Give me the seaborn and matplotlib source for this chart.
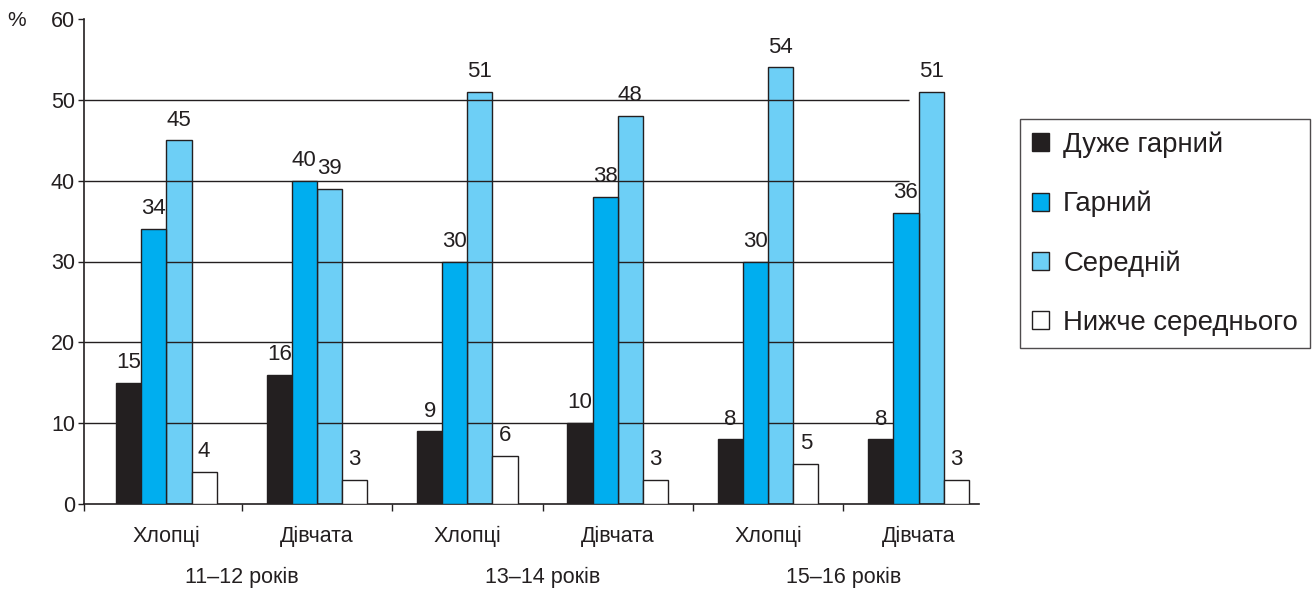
import matplotlib
matplotlib.use("Agg")
import matplotlib.pyplot as plt
from matplotlib.patches import Patch
import seaborn as sns
import pandas as pd

# Categories (two per age group) and the four rating levels
groups = ["Хлопці", "Дівчата", "Хлопці", "Дівчата", "Хлопці", "Дівчата"]
age_groups = ["11–12 років", "13–14 років", "15–16 років"]
levels = ["Дуже гарний", "Гарний", "Середній", "Нижче середнього"]

very_good = [15, 16, 9, 10, 8, 8]
good = [34, 40, 30, 38, 30, 36]
average = [45, 39, 51, 48, 54, 51]
below_average = [4, 3, 6, 3, 5, 3]

y_ticks = [0, 10, 20, 30, 40, 50, 60]

colors = ["#231f20", "#00aeef", "#6dcff6", "#ffffff"]
ink = "#231f20"

sns.set_theme(style="white")
plt.rcParams["font.family"] = ["Liberation Sans", "DejaVu Sans"]

series = [very_good, good, average, below_average]
rows = []
for lvl, vals in zip(levels, series):
    for i, v in enumerate(vals):
        rows.append({"cat": i, "level": lvl, "value": v})
df = pd.DataFrame(rows)

fig = plt.figure(figsize=(13.14, 5.89), dpi=100)
ax = fig.add_axes([84 / 1314, 1 - 504 / 589, 895 / 1314, 485 / 589])

sns.barplot(data=df, x="cat", y="value", hue="level", hue_order=levels,
            palette=colors, width=0.668, gap=0, saturation=1,
            edgecolor=ink, linewidth=1.0, errorbar=None, legend=False, ax=ax)

# light-blue bars sit under the grid lines, the others above
for k, cont in enumerate(ax.containers):
    for p in cont:
        p.set_zorder(1 if k == 2 else 3)
    ax.bar_label(cont, labels=[str(v) for v in series[k]], padding=7,
                 fontsize=16, color=ink, zorder=4)

ax.set_xlim(-0.5485, 5.402)
ax.set_ylim(0, 60)

# horizontal grid lines (stop short of the last group)
ax.hlines([10, 20, 30, 40, 50], -0.5485, 4.937, color=ink, lw=1.0, zorder=2)

for s in ["top", "right"]:
    ax.spines[s].set_visible(False)
for s in ["left", "bottom"]:
    ax.spines[s].set_color(ink)
    ax.spines[s].set_linewidth(1.2)

ax.set_yticks(y_ticks)
ax.set_yticklabels([str(t) for t in y_ticks], fontsize=15.5, color=ink)
ax.tick_params(axis="y", which="major", left=True, length=4.5, width=1.0,
               color=ink, pad=2)

ax.set_xticks(range(len(groups)))
ax.set_xticklabels(groups, fontsize=15.5, color=ink)
ax.tick_params(axis="x", which="major", bottom=True, length=0, pad=16)
ax.set_xticks([-0.5485, 0.5, 1.5, 2.5, 3.5, 4.5], minor=True)
ax.tick_params(axis="x", which="minor", bottom=True, length=5, width=1.0,
               color=ink)
ax.set_xlabel("")
ax.set_ylabel("")

for xpos, txt in zip([0.5, 2.5, 4.5], age_groups):
    ax.annotate(txt, xy=(xpos, 0), xycoords=("data", "axes fraction"),
                xytext=(0, -57), textcoords="offset points",
                ha="center", va="baseline", fontsize=15.5, color=ink)

fig.text(17 / 1314, 1 - 20 / 589, "%", ha="center", va="center",
         fontsize=15, color=ink)

handles = [Patch(facecolor=c, edgecolor=ink, linewidth=1.0) for c in colors]
leg = fig.legend(handles, levels, loc="upper left",
                 bbox_to_anchor=(1020 / 1314, 1 - 119 / 589),
                 fontsize=19.8, frameon=True, fancybox=False,
                 handlelength=0.62, handleheight=0.62, handletextpad=0.5,
                 labelspacing=1.2, borderpad=0.45, borderaxespad=0)
leg.get_frame().set_edgecolor(ink)
leg.get_frame().set_linewidth(1.0)
for t in leg.get_texts():
    t.set_color(ink)

fig.savefig("out.png", dpi=100)
